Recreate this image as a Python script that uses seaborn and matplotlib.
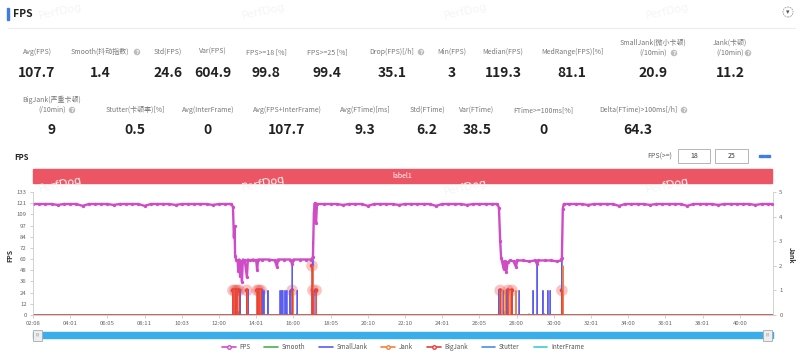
import numpy as np
import pandas as pd
import matplotlib
matplotlib.use("Agg")
import matplotlib.pyplot as plt
import seaborn as sns
from matplotlib.patches import Rectangle, Ellipse
from matplotlib.lines import Line2D

# ---------------- data ----------------
row1_labels = ["Avg(FPS)", "Smooth(抖动指数)", "Std(FPS)", "Var(FPS)", "FPS>=18 [%]", "FPS>=25 [%]",
               "Drop(FPS)[/h]", "Min(FPS)", "Median(FPS)", "MedRange(FPS)[%]",
               "SmallJank(微小卡顿)\n(/10min)", "Jank(卡顿)\n(/10min)"]
row1_values = ["107.7", "1.4", "24.6", "604.9", "99.8", "99.4", "35.1", "3", "119.3", "81.1", "20.9", "11.2"]
row2_labels = ["BigJank(严重卡顿)\n(/10min)", "Stutter(卡顿率)[%]", "Avg(InterFrame)", "Avg(FPS+InterFrame)",
               "Avg(FTime)[ms]", "Std(FTime)", "Var(FTime)", "FTime>=100ms[%]", "Delta(FTime)>100ms[/h]"]
row2_values = ["9", "0.5", "0", "107.7", "9.3", "6.2", "38.5", "0", "64.3"]

x_tick_labels = ["02:08", "04:01", "06:05", "08:11", "10:03", "12:00", "14:01", "16:00", "18:05", "20:10",
                 "22:10", "24:01", "26:05", "28:00", "30:00", "32:01", "34:00", "36:01", "38:01", "40:00"]
fps_tick_labels = ["0", "12", "24", "36", "48", "60", "72", "84", "97", "109", "121", "133"]
jank_tick_labels = ["0", "1", "2", "3", "4", "5"]

fps_time = [0, 20, 40, 60, 80, 100, 120, 140, 160, 180, 200, 220, 240, 260, 280, 300, 320, 340, 360, 380,
            400, 420, 440, 460, 480, 500, 520, 540, 560, 580, 600, 620, 640,
            645, 648, 650, 652, 655, 660, 662, 665, 668, 671, 674, 677, 683, 690, 693, 700, 710, 720, 723,
            726, 740, 760, 780, 787, 790, 810, 830, 836, 840, 860, 880, 898,
            903, 906, 909, 913, 916,
            940, 960, 980, 1000, 1020, 1040, 1060, 1080, 1100, 1120, 1140, 1160, 1180, 1200, 1220, 1240,
            1260, 1280, 1300, 1320, 1340, 1360, 1380, 1400, 1420, 1440, 1460, 1480, 1498,
            1503, 1507, 1510, 1513, 1518, 1522, 1527, 1531, 1540, 1550, 1558, 1562, 1580, 1600, 1620,
            1626, 1630, 1650, 1670, 1690, 1702,
            1706, 1709, 1712,
            1730, 1750, 1770, 1790, 1810, 1830, 1850, 1870, 1890, 1910, 1930, 1950, 1970, 1990, 2010,
            2030, 2050, 2070, 2090, 2110, 2130, 2150, 2170, 2190, 2210, 2230, 2250, 2270, 2290, 2310,
            2330, 2350, 2370, 2385]
fps_value = [120, 120, 120, 120, 119, 120, 120, 120, 118, 120, 120, 120, 120, 119, 120, 120, 120, 120, 118, 120,
             120, 120, 120, 119, 120, 120, 120, 120, 120, 119, 120, 120, 120,
             117, 84, 96, 64, 60, 59, 48, 60, 42, 58, 36, 60, 59, 41, 60, 59, 60, 59, 49,
             60, 60, 60, 59, 52, 60, 60, 60, 55, 60, 60, 60, 60,
             63, 110, 121, 99, 120,
             120, 120, 120, 119, 120, 120, 120, 118, 120, 120, 120, 120, 119, 120, 120, 120,
             120, 120, 118, 120, 120, 120, 120, 119, 120, 120, 120, 120, 120,
             116, 80, 62, 58, 50, 58, 47, 57, 59, 58, 52, 59, 59, 58, 59,
             55, 59, 59, 59, 58, 59,
             62, 115, 120,
             120, 120, 120, 119, 120, 120, 120, 120, 118, 120, 120, 120, 120, 119, 120,
             120, 120, 120, 120, 118, 120, 120, 120, 120, 119, 120, 120, 120, 120, 120,
             119, 120, 120, 120]

jank_time = [645, 651, 658, 690, 723, 729, 733, 839, 900, 903, 1507, 1513, 1523, 1532, 1539, 1558, 1710]
jank_value = [1, 1, 1, 1, 1, 1, 1, 1, 1, 2, 1, 1, 1, 1, 1, 1, 2]

bigjank_time = [645, 652, 658, 665, 690, 723, 729, 736, 836, 900, 903, 913, 1507, 1532, 1545, 1706]
bigjank_value = [1, 1, 1, 1, 1, 1, 1, 1, 1, 2, 1, 1, 1, 1, 1, 1]

smalljank_time = [648, 655, 668, 694, 726, 739, 745, 758, 797, 803, 806, 813, 819, 829, 836, 852, 903, 906,
                  1503, 1516, 1526, 1545, 1568, 1613, 1626, 1645, 1661, 1668, 1706]
smalljank_value = [1, 1, 1, 1, 1, 1, 1, 1, 1, 1, 1, 1, 1, 1, 2.2, 1, 3, 1,
                   1, 1, 1, 1, 1, 1, 2.1, 1, 1, 1, 2.5]

stutter_time = [648, 661, 726, 836, 903, 1507, 1519, 1532, 1706]
stutter_value = [0.2, 0.15, 0.2, 0.15, 0.25, 0.2, 0.15, 0.2, 0.2]

smooth_time = [820, 850, 1540, 1600, 1650]
smooth_value = [0.05, 0.05, 0.06, 0.05, 0.05]

interframe_time = [0, 2387]
interframe_value = [0, 0]

T_END = 2387

# ---------------- style ----------------
sns.set_theme(style="white")
plt.rcParams['font.family'] = ['Noto Sans CJK SC', 'DejaVu Sans']

C_FPS = "#cf4cc6"
C_SMOOTH = "#4caf50"
C_SMALL = "#5a5df0"
C_JANK = "#f5813d"
C_BIG = "#e8403a"
C_STUT = "#4a8fe8"
C_INTER = "#36d0d6"

W, H = 800, 353
fig = plt.figure(figsize=(8, 3.53), dpi=100)


def P(x, y):
    return (x / W, 1 - y / H)


def ftext(x, y, s, **kw):
    kw.setdefault("ha", "center")
    kw.setdefault("va", "center")
    return fig.text(x / W, 1 - y / H, s, **kw)


def help_icon(x, y):
    fig.add_artist(Ellipse(P(x, y), 6.5 / W, 6.5 / H, transform=fig.transFigure,
                           facecolor="#bdbdbd", edgecolor="none"))
    ftext(x, y + 0.3, "?", fontsize=4, color="white", fontweight="bold", family=["DejaVu Sans"])


# watermarks
for wx, wy in [(60, 12), (263, 12), (465, 12), (667, 12), (60, 185), (263, 184), (465, 188), (667, 186)]:
    ftext(wx, wy, "PerfDog", fontsize=8, color="#f5f5f5", rotation=12, family=["DejaVu Sans"])

# header
fig.add_artist(Rectangle(P(7, 20), 2 / W, 12 / H, transform=fig.transFigure, color="#3f7ce8"))
ftext(13, 14, "FPS", fontsize=7.5, fontweight="bold", ha="left", color="#222222")
fig.add_artist(Line2D([8 / W, 795 / W], [1 - 28 / H] * 2, color="#ececec", lw=0.8))
fig.add_artist(Ellipse(P(788, 12), 10 / W, 10 / H, transform=fig.transFigure,
                       facecolor="white", edgecolor="#999999", lw=0.6, ls=(0, (2, 1))))
ftext(788, 12.5, "▾", fontsize=5, color="#555555", family=["DejaVu Sans"])

# metrics row 1
row1_x = [37, 100, 168, 213, 266, 327, 392, 452, 503, 572, 653, 730]
for lab, val, x in zip(row1_labels, row1_values, row1_x):
    if "\n" in lab:
        l1, l2 = lab.split("\n")
        ftext(x, 43, l1, fontsize=5, color="#777777")
        ftext(x, 53, l2, fontsize=5, color="#777777")
    else:
        ftext(x, 52, lab, fontsize=5, color="#777777")
    ftext(x, 73, val, fontsize=10, fontweight="bold", color="#222222")
for hx, hy in [(137, 52), (421, 52), (674, 53), (748, 53)]:
    help_icon(hx, hy)

# metrics row 2
row2_x = [52, 135, 208, 287, 365, 427, 477, 543, 638]
for lab, val, x in zip(row2_labels, row2_values, row2_x):
    if "\n" in lab:
        l1, l2 = lab.split("\n")
        ftext(x, 100, l1, fontsize=5, color="#777777")
        ftext(x, 110, l2, fontsize=5, color="#777777")
    else:
        ftext(x, 110, lab, fontsize=5, color="#777777")
    ftext(x, 130, val, fontsize=10, fontweight="bold", color="#222222")
for hx, hy in [(72, 110), (684, 110)]:
    help_icon(hx, hy)

# chart header
ftext(14, 157, "FPS", fontsize=5.5, fontweight="bold", ha="left", color="#222222")
ftext(660, 157, "FPS(>=)", fontsize=5, color="#555555")
for bx0, bx1, txt in [(678, 710, "18"), (715, 748, "25")]:
    fig.add_artist(Rectangle(P(bx0, 163), (bx1 - bx0) / W, 14 / H, transform=fig.transFigure,
                             facecolor="white", edgecolor="#aaaaaa", lw=0.6))
    ftext((bx0 + bx1) / 2, 156.5, txt, fontsize=5, color="#333333")
fig.add_artist(Rectangle(P(759, 157), 5 / W, 2.5 / H, transform=fig.transFigure, color="#3f7ce8"))
fig.add_artist(Rectangle(P(765, 157), 5 / W, 2.5 / H, transform=fig.transFigure, color="#3f7ce8"))

# label bar
fig.add_artist(Rectangle(P(33, 183), 739 / W, 14 / H, transform=fig.transFigure, color="#ec5664"))
ftext(402, 176, "label1", fontsize=5, color="white")

# ---------------- main chart ----------------
ax = fig.add_axes([33 / W, 1 - 315 / H, 740 / W, 123 / H])
ax2 = ax.twinx()


def spikes(times, values):
    xs, ys = [0], [0]
    for t, v in zip(times, values):
        xs += [t - 1, t, t + 1]
        ys += [0, v, 0]
    xs.append(T_END)
    ys.append(0)
    return pd.DataFrame({"t": xs, "v": ys})


for tt, vv, col, lw in [(interframe_time, interframe_value, C_INTER, 1.0),
                        (stutter_time, stutter_value, C_STUT, 0.7),
                        (smooth_time, smooth_value, C_SMOOTH, 0.7),
                        (smalljank_time, smalljank_value, C_SMALL, 0.7),
                        (jank_time, jank_value, C_JANK, 0.7),
                        (bigjank_time, bigjank_value, C_BIG, 0.6)]:
    if len(tt) == 2:
        df = pd.DataFrame({"t": tt, "v": vv})
    else:
        df = spikes(tt, vv)
    sns.lineplot(data=df, x="t", y="v", ax=ax2, color=col, lw=lw, estimator=None, sort=False)

big_df = pd.DataFrame({"t": bigjank_time, "v": bigjank_value})
sns.scatterplot(data=big_df, x="t", y="v", ax=ax2, color=C_BIG, s=70, alpha=0.3, edgecolor="none")
sns.scatterplot(data=big_df, x="t", y="v", ax=ax2, color=C_BIG, s=10, edgecolor="none")

fps_df = pd.DataFrame({"t": fps_time, "fps": fps_value})
sns.lineplot(data=fps_df, x="t", y="fps", ax=ax, color=C_FPS, lw=1.7, marker="o", markersize=2.4,
             markeredgewidth=0, estimator=None, sort=False)

ax.set_zorder(ax2.get_zorder() + 1)
ax.patch.set_visible(False)

ax.set_xlim(0, T_END)
ax.set_ylim(0, 133)
ax2.set_ylim(0, 5)
ax.set_yticks(np.arange(len(fps_tick_labels)) * 133 / 11)
ax.set_yticklabels(fps_tick_labels)
ax.set_xticks(np.arange(len(x_tick_labels)) * 120)
ax.set_xticklabels(x_tick_labels)
ax2.set_yticks(range(len(jank_tick_labels)))
ax2.set_yticklabels(jank_tick_labels)
for a in (ax, ax2):
    a.set_xlabel("")
    a.set_ylabel("")
    a.grid(False)
    for s in a.spines.values():
        s.set_visible(False)
ax.spines["left"].set_visible(True)
ax.spines["left"].set_color("#cccccc")
ax.spines["left"].set_linewidth(0.6)
ax.spines["bottom"].set_visible(True)
ax.spines["bottom"].set_color("#cccccc")
ax.spines["bottom"].set_linewidth(0.6)
ax2.spines["right"].set_visible(True)
ax2.spines["right"].set_color("#cccccc")
ax2.spines["right"].set_linewidth(0.6)
ax.tick_params(axis="both", labelsize=4.3, colors="#666666", length=2.5, width=0.5, pad=2,
               left=True, bottom=True)
ax.tick_params(axis="both", color="#bbbbbb")
ax2.tick_params(axis="y", labelsize=4.3, colors="#666666", length=2.5, width=0.5, pad=2, right=True)
ax2.tick_params(axis="y", color="#bbbbbb")

ftext(10, 255, "FPS", fontsize=5, fontweight="bold", rotation=90, color="#333333")
ftext(791, 255, "Jank", fontsize=5, fontweight="bold", rotation=270, color="#333333")

# slider
fig.add_artist(Rectangle(P(33, 338), 740 / W, 6 / H, transform=fig.transFigure, color="#39aeea"))
for hx in (33, 763):
    fig.add_artist(Rectangle(P(hx, 341), 9 / W, 11 / H, transform=fig.transFigure,
                             facecolor="#eeeeee", edgecolor="#aaaaaa", lw=0.6))
    ftext(hx + 4.5, 335, "|||", fontsize=3, color="#888888", family=["DejaVu Sans"])

# legend
handles = [
    Line2D([], [], color=C_FPS, lw=1.2, marker="o", markersize=2.5, markerfacecolor="white"),
    Line2D([], [], color=C_SMOOTH, lw=1.2),
    Line2D([], [], color=C_SMALL, lw=1.2),
    Line2D([], [], color=C_JANK, lw=1.2, marker="o", markersize=2.5, markerfacecolor="white"),
    Line2D([], [], color=C_BIG, lw=1.2, marker="o", markersize=2.5, markerfacecolor="white"),
    Line2D([], [], color=C_STUT, lw=1.2),
    Line2D([], [], color=C_INTER, lw=1.2),
]
names = ["FPS", "Smooth", "SmallJank", "Jank", "BigJank", "Stutter", "InterFrame"]
leg = fig.legend(handles, names, loc="center", bbox_to_anchor=(403 / W, 1 - 347 / H), ncol=7,
                 frameon=False, fontsize=4.5, handlelength=2.2, columnspacing=2.2, handletextpad=0.6)
for t in leg.get_texts():
    t.set_color("#555555")

fig.savefig("out.png", dpi=100)
